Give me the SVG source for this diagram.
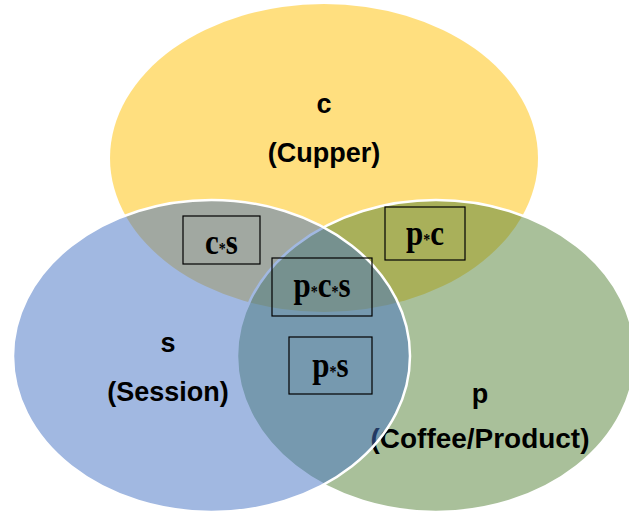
<svg xmlns="http://www.w3.org/2000/svg" width="629" height="515" viewBox="0 0 629 515">
<style>
.set{stroke:#ffffff;stroke-width:2.5}
.lbl{font-family:"Liberation Sans",Arial,sans-serif;font-weight:bold;font-size:27px;fill:#000;text-anchor:middle}
.box{fill:none;stroke:#000;stroke-width:1.2}
.bt{font-family:"Liberation Serif","Times New Roman",serif;font-weight:bold;font-size:31px;fill:#000;text-anchor:middle}
.ast{font-size:14px}
</style>
<rect width="629" height="515" fill="#ffffff"/>
<g id="node-c">
<ellipse cx="324" cy="158" rx="214" ry="154" fill="#FFC000" fill-opacity="0.5"/>
<text class="lbl" x="324" y="113">c</text>
<text class="lbl" x="324" y="162">(Cupper)</text>
</g>
<g id="node-p">
<ellipse class="set" cx="436" cy="356" rx="199" ry="156" fill="#548235" fill-opacity="0.5"/>
<text class="lbl" x="480" y="403">p</text>
<text class="lbl" x="480" y="448" textLength="219" lengthAdjust="spacingAndGlyphs">(Coffee/Product)</text>
</g>
<g id="node-s">
<ellipse class="set" cx="211.5" cy="356" rx="198.5" ry="156" fill="#4472C4" fill-opacity="0.5"/>
<text class="lbl" x="168" y="352">s</text>
<text class="lbl" x="168" y="401">(Session)</text>
</g>
<g id="node-cs">
<rect class="box" x="183" y="216" width="77" height="48"/>
<text class="bt" transform="translate(221.5,254) scale(1,1.15)">c<tspan class="ast">*</tspan>s</text>
</g>
<g id="node-pc">
<rect class="box" x="385" y="207" width="80" height="53"/>
<text class="bt" transform="translate(425,245) scale(1,1.15)">p<tspan class="ast">*</tspan>c</text>
</g>
<g id="node-pcs">
<rect class="box" x="272" y="258" width="100" height="58"/>
<text class="bt" transform="translate(322,297) scale(1,1.15)">p<tspan class="ast">*</tspan>c<tspan class="ast">*</tspan>s</text>
</g>
<g id="node-ps">
<rect class="box" x="289" y="337" width="83" height="57"/>
<text class="bt" transform="translate(330.5,377) scale(1,1.15)">p<tspan class="ast">*</tspan>s</text>
</g>
<g id="connectors"/>
</svg>
